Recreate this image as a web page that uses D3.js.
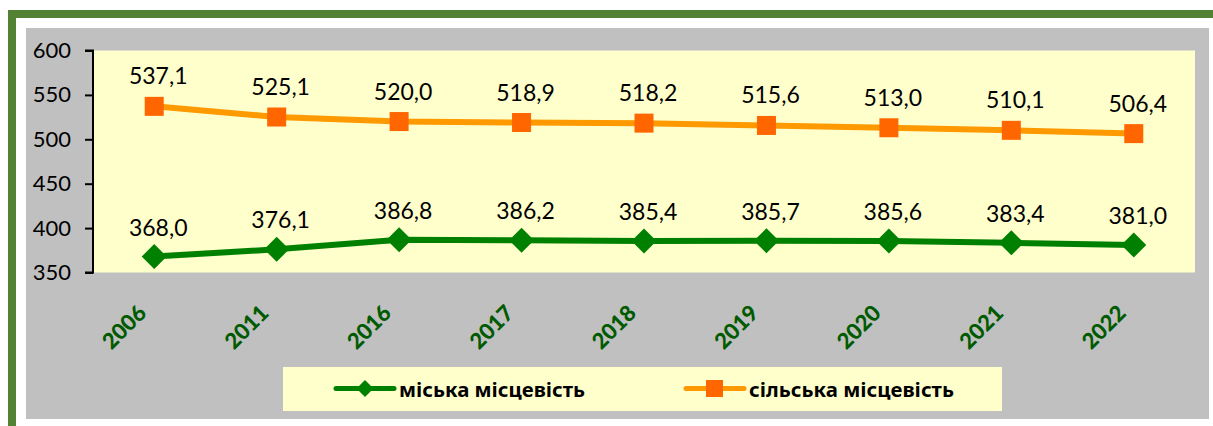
<!DOCTYPE html>
<html><head><meta charset="utf-8">
<script src="https://cdn.jsdelivr.net/npm/d3@7"></script>
<style>html,body{margin:0;padding:0;background:#fff;}svg{display:block;}</style>
</head><body>
<script>
const categories = ["2006","2011","2016","2017","2018","2019","2020","2021","2022"];
const urban = [368.0,376.1,386.8,386.2,385.4,385.7,385.6,383.4,381.0];
const rural = [537.1,525.1,520.0,518.9,518.2,515.6,513.0,510.1,506.4];
const yTicks = [350,400,450,500,550,600];
const seriesNames = ["міська місцевість","сільська місцевість"];

const W = 1213, H = 426;
const svg = d3.select("body").append("svg").attr("width", W).attr("height", H);
svg.append("rect").attr("width", W).attr("height", H).attr("fill", "#fff");
// green frame
svg.append("rect").attr("x", 8).attr("y", 10).attr("width", 8).attr("height", H - 10).attr("fill", "#548235");
svg.append("rect").attr("x", 8).attr("y", 10).attr("width", W - 8).attr("height", 8).attr("fill", "#548235");
// gray chart area
svg.append("rect").attr("x", 26).attr("y", 28).attr("width", 1183).attr("height", 391).attr("fill", "#C0C0C0");

const pl = 93, pr = 1195, pt = 50.5, pb = 272.5;
svg.append("rect").attr("x", pl).attr("y", pt).attr("width", pr - pl).attr("height", pb - pt).attr("fill", "#FFFFCC");

const x = d3.scaleBand().domain(categories).range([pl, pr]).padding(0);
const y = d3.scaleLinear().domain([350, 600]).range([pb, pt]);
const cx = c => x(c) + x.bandwidth() / 2;

const yAxis = svg.append("g").attr("transform", `translate(${pl},0)`)
  .call(d3.axisLeft(y).tickValues(yTicks).tickSize(8).tickPadding(14).tickFormat(d3.format("d")));
yAxis.select(".domain").attr("stroke", "#000").attr("stroke-width", 2).attr("d", `M-8,${pt}H0V${pb}H-8`);
yAxis.selectAll(".tick line").attr("stroke", "#000").attr("stroke-width", 2);
yAxis.selectAll(".tick text").attr("fill", "#000").style("font-family", "Lato").style("font-size", "22px");

// x labels
svg.append("g").selectAll("text").data(categories).join("text")
  .attr("transform", d => `translate(${cx(d) - 12},${309}) rotate(-45)`)
  .attr("text-anchor", "end").attr("dy", "0.35em")
  .style("font-family", "Lato").style("font-weight", "900").style("font-size", "22px")
  .attr("fill", "#005A00").text(d => d);

const line = d3.line().x((d, i) => cx(categories[i])).y(d => y(d));
const fmt = v => d3.format(".1f")(v).replace(".", ",");

// rural
svg.append("path").datum(rural).attr("d", line).attr("fill", "none").attr("stroke", "#FF9900").attr("stroke-width", 6);
svg.append("g").selectAll("rect").data(rural).join("rect")
  .attr("x", (d, i) => cx(categories[i]) - 9.5).attr("y", d => y(d) - 9.5)
  .attr("width", 19).attr("height", 19).attr("fill", "#FF6600");
// urban
svg.append("path").datum(urban).attr("d", line).attr("fill", "none").attr("stroke", "#008000").attr("stroke-width", 6);
const diamond = (s) => `M0,${-s}L${s},0L0,${s}L${-s},0Z`;
svg.append("g").selectAll("path").data(urban).join("path")
  .attr("transform", (d, i) => `translate(${cx(categories[i])},${y(d)})`)
  .attr("d", diamond(12.5)).attr("fill", "#008000");

// data labels
const lab = (data, off) => svg.append("g").selectAll("text").data(data).join("text")
  .attr("x", (d, i) => cx(categories[i]) + 4).attr("y", d => y(d) - off)
  .attr("text-anchor", "middle").style("font-family", "Lato").style("font-size", "23px")
  .attr("fill", "#000").text(fmt);
lab(rural, 22);
lab(urban, 21);

// legend
svg.append("rect").attr("x", 283).attr("y", 367).attr("width", 719).attr("height", 44).attr("fill", "#FFFFCC");
const ly = 388.5;
svg.append("line").attr("x1", 336).attr("x2", 394).attr("y1", ly).attr("y2", ly).attr("stroke", "#008000").attr("stroke-width", 5).attr("stroke-linecap", "round");
svg.append("path").attr("transform", `translate(365,${ly})`).attr("d", diamond(8.5)).attr("fill", "#008000");
svg.append("text").attr("x", 399).attr("y", 397).text(seriesNames[0])
  .style("font-family", "Noto Sans").style("font-weight", "bold").style("font-size", "20px")
  .attr("textLength", 186).attr("lengthAdjust", "spacingAndGlyphs").attr("fill", "#000");
svg.append("line").attr("x1", 686).attr("x2", 744).attr("y1", ly).attr("y2", ly).attr("stroke", "#FF9900").attr("stroke-width", 5).attr("stroke-linecap", "round");
svg.append("rect").attr("x", 706).attr("y", ly - 8.5).attr("width", 17).attr("height", 17).attr("fill", "#FF6600");
svg.append("text").attr("x", 749).attr("y", 397).text(seriesNames[1])
  .style("font-family", "Noto Sans").style("font-weight", "bold").style("font-size", "20px")
  .attr("textLength", 205).attr("lengthAdjust", "spacingAndGlyphs").attr("fill", "#000");
</script>
</body></html>
